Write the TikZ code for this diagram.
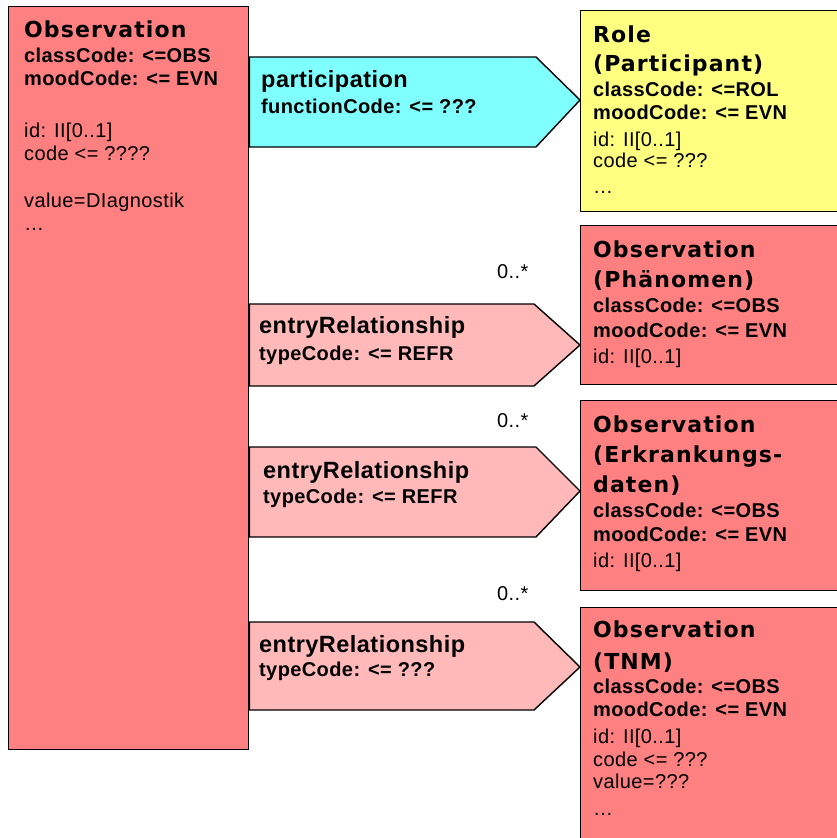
\documentclass[tikz,border=0pt]{standalone}
\usepackage{fontspec}
\newfontfamily\ttlfont[LetterSpace=5]{DejaVu Sans}
\newfontfamily\bdyfont[LetterSpace=2]{Liberation Sans}
\definecolor{obsred}{HTML}{FF8080}
\definecolor{roleyellow}{HTML}{FFFF80}
\definecolor{partcyan}{HTML}{80FFFF}
\definecolor{entpink}{HTML}{FFB9B9}
\tikzset{
  box/.style={draw=black, line width=1.4pt, rectangle, anchor=north west, inner sep=0pt},
  ttl/.style={anchor=base west, inner sep=0pt, font=\ttlfont\bfseries\fontsize{22}{26}\selectfont},
  big/.style={anchor=base west, inner sep=0pt, font=\bdyfont\bfseries\fontsize{23.5}{27}\selectfont},
  bld/.style={anchor=base west, inner sep=0pt, font=\bdyfont\bfseries\fontsize{20}{24}\selectfont},
  reg/.style={anchor=base west, inner sep=0pt, font=\bdyfont\fontsize{20}{24}\selectfont},
  arrowshape/.style={draw=black, line width=1.4pt, line join=miter},
}
\begin{document}
\begin{tikzpicture}[x=1pt,y=-1pt]
\useasboundingbox (0,0) rectangle (837,838);
\clip (0,0) rectangle (837,838);
\fill[white] (0,0) rectangle (837,838);

% boxes
\node[box, fill=obsred, minimum width=240pt, minimum height=743pt] (obs) at (8,6) {};
\node[box, fill=roleyellow, minimum width=265pt, minimum height=201pt] (role) at (580,10) {};
\node[box, fill=obsred, minimum width=265pt, minimum height=159pt] (phen) at (580,225) {};
\node[box, fill=obsred, minimum width=265pt, minimum height=190pt] (erk) at (580,400) {};
\node[box, fill=obsred, minimum width=265pt, minimum height=243pt] (tnm) at (580,607) {};

% arrow shapes (connectors)
\draw[arrowshape, fill=partcyan] (obs.east |- 0,57) -- (536,57) -- (role.west |- 0,100) -- (536,147) -- (obs.east |- 0,147) -- cycle;
\draw[arrowshape, fill=entpink] (obs.east |- 0,304) -- (534,304) -- (phen.west |- 0,345) -- (534,386) -- (obs.east |- 0,386) -- cycle;
\draw[arrowshape, fill=entpink] (obs.east |- 0,447) -- (536,447) -- (erk.west |- 0,491) -- (536,537) -- (obs.east |- 0,537) -- cycle;
\draw[arrowshape, fill=entpink] (obs.east |- 0,622) -- (534,622) -- (tnm.west |- 0,667) -- (534,710) -- (obs.east |- 0,710) -- cycle;

% left Observation
\node[ttl] (o1) at (24,37) {Observation};
\node[bld] (o2) at (24,62) {classCode: <=OBS};
\node[bld] (o3) at (24,85) {moodCode: <= EVN};
\node[reg] (o4) at (24,137) {id: II[0..1]};
\node[reg] (o5) at (24,160) {code <= ????};
\node[reg] (o6) at (24,207) {value=DIagnostik};
\node[reg] (o7) at (24,230) {…};

% participation
\node[big] (p1) at (261,87) {participation};
\node[bld] (p2) at (261,113) {functionCode: <= ???};

% Role
\node[ttl] (r1) at (593,42) {Role};
\node[ttl] (r2) at (593,71) {(Participant)};
\node[bld] (r3) at (593,96) {classCode: <=ROL};
\node[bld] (r4) at (593,119) {moodCode: <= EVN};
\node[reg] (r5) at (593,146) {id: II[0..1]};
\node[reg] (r6) at (593,167) {code <= ???};
\node[reg] (r7) at (593,193) {…};

% entry 1
\node[reg] (m1) at (497,278) {0..*};
\node[big] (e11) at (259,333) {entryRelationship};
\node[bld] (e12) at (259,360) {typeCode: <= REFR};

% Phaenomen
\node[ttl] (ph1) at (593,257) {Observation};
\node[ttl] (ph2) at (593,287) {(Phänomen)};
\node[bld] (ph3) at (593,312) {classCode: <=OBS};
\node[bld] (ph4) at (593,337) {moodCode: <= EVN};
\node[reg] (ph5) at (593,363) {id: II[0..1]};

% entry 2
\node[reg] (m2) at (497,427) {0..*};
\node[big] (e21) at (263,478) {entryRelationship};
\node[bld] (e22) at (263,503) {typeCode: <= REFR};

% Erkrankungsdaten
\node[ttl] (ek1) at (593,432) {Observation};
\node[ttl] (ek2) at (593,462) {(Erkrankungs-};
\node[ttl] (ek3) at (593,492) {daten)};
\node[bld] (ek4) at (593,517) {classCode: <=OBS};
\node[bld] (ek5) at (593,541) {moodCode: <= EVN};
\node[reg] (ek6) at (593,567) {id: II[0..1]};

% entry 3
\node[reg] (m3) at (497,600) {0..*};
\node[big] (e31) at (259,652) {entryRelationship};
\node[bld] (e32) at (259,676) {typeCode: <= ???};

% TNM
\node[ttl] (t1) at (593,637) {Observation};
\node[ttl] (t2) at (593,669) {(TNM)};
\node[bld] (t3) at (593,693) {classCode: <=OBS};
\node[bld] (t4) at (593,716) {moodCode: <= EVN};
\node[reg] (t5) at (593,743) {id: II[0..1]};
\node[reg] (t6) at (593,766) {code <= ???};
\node[reg] (t7) at (593,788) {value=???};
\node[reg] (t8) at (593,815) {…};
\end{tikzpicture}
\end{document}
